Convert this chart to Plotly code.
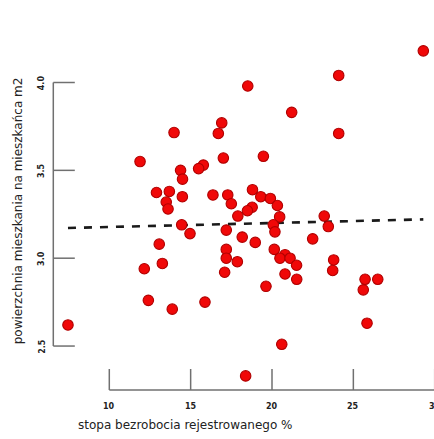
import plotly.graph_objects as go

# ---- data ----
unemployment = [7.46, 29.30, 24.10, 18.51, 21.21, 24.10, 13.98, 16.91, 16.70, 11.89,
                17.01, 19.47, 15.78, 15.49, 14.38, 14.50, 12.90, 13.69, 14.49, 13.50,
                13.61, 16.37, 17.28, 17.50, 18.80, 19.31, 19.90, 20.33, 18.78, 18.49,
                17.90, 20.47, 14.45, 14.96, 17.19, 20.08, 20.18, 18.17, 18.97, 13.07,
                22.50, 23.21, 23.46, 13.26, 12.15, 17.19, 17.19, 17.87, 17.09, 20.14,
                20.80, 20.49, 21.11, 21.51, 20.80, 21.52, 23.79, 23.73, 25.72, 26.50,
                25.61, 19.63, 12.40, 13.87, 15.88, 25.84, 20.60, 18.38]
area = [2.62, 4.18, 4.04, 3.98, 3.83, 3.71, 3.715, 3.77, 3.71, 3.55,
        3.57, 3.58, 3.53, 3.51, 3.50, 3.45, 3.374, 3.38, 3.35, 3.32,
        3.28, 3.36, 3.36, 3.31, 3.39, 3.35, 3.34, 3.30, 3.29, 3.27,
        3.24, 3.235, 3.19, 3.14, 3.16, 3.19, 3.15, 3.12, 3.09, 3.08,
        3.11, 3.24, 3.18, 2.97, 2.94, 3.05, 3.00, 2.98, 2.92, 3.05,
        3.02, 3.00, 3.00, 2.96, 2.91, 2.88, 2.99, 2.93, 2.88, 2.88,
        2.82, 2.84, 2.76, 2.71, 2.75, 2.63, 2.51, 2.33]
trend_x = [7.46, 29.30]
trend_y = [3.172, 3.221]
x_ticks = [10, 15, 20, 25, 30]
y_ticks = [2.5, 3.0, 3.5, 4.0]
x_title = "stopa bezrobocia rejestrowanego %"
y_title = "powierzchnia mieszkania na mieszkańca m2"

# ---- calibration of the canvas ----
W, H = 434, 439
X_PX0, X_PPU = 109.3, 16.27   # pixel of x=10, pixels per x unit
Y_PX0, Y_PPU = 82.5, 175.7    # pixel of y=4.0, pixels per y unit
xr = [10 - X_PX0 / X_PPU, 10 + (W - X_PX0) / X_PPU]
yr = [4.0 - (H - Y_PX0) / Y_PPU, 4.0 + Y_PX0 / Y_PPU]


def dx(px):  # pixel x -> data x
    return xr[0] + px / X_PPU


def dy(py):  # pixel y (from top) -> data y
    return yr[1] - py / Y_PPU


def paper_x(v):  # data x -> paper fraction (may exceed 1)
    return (v - xr[0]) / (xr[1] - xr[0])


AX_COL = "#707070"
yaxis_x = dx(53.3)
xaxis_y = dy(390)
tick_len_x = 21.5 / X_PPU
tick_len_y = 21.0 / Y_PPU

fig = go.Figure()
fig.add_trace(go.Scatter(
    x=trend_x, y=trend_y, mode="lines",
    line=dict(color="#1a1a1a", width=2.6, dash="8px,8px"),
    hoverinfo="skip", showlegend=False))
fig.add_trace(go.Scatter(
    x=unemployment, y=area, mode="markers",
    marker=dict(color="#f00808", size=10.5, line=dict(color="#b00000", width=1.1)),
    showlegend=False))

shapes = []
# y axis line + ticks (pointing inward)
shapes.append(dict(type="line", xref="x", yref="y", x0=yaxis_x, x1=yaxis_x,
                   y0=min(y_ticks), y1=max(y_ticks), line=dict(color=AX_COL, width=1.5)))
for t in y_ticks:
    shapes.append(dict(type="line", xref="x", yref="y", x0=yaxis_x, x1=yaxis_x + tick_len_x,
                       y0=t, y1=t, line=dict(color=AX_COL, width=1.5)))
# x axis line + ticks (pointing up)
shapes.append(dict(type="line", xref="x", yref="y", x0=min(x_ticks), x1=max(x_ticks),
                   y0=xaxis_y, y1=xaxis_y, line=dict(color=AX_COL, width=1.5)))
for t in x_ticks:
    shapes.append(dict(type="line", xref="x", yref="y", x0=t, x1=t,
                       y0=xaxis_y, y1=xaxis_y + tick_len_y, line=dict(color=AX_COL, width=1.5)))

annotations = []
tick_font = dict(family="DejaVu Sans", size=8, color="#222222", weight="bold")
for t in x_ticks:
    annotations.append(dict(x=paper_x(t), y=dy(406), xref="paper", yref="y", text=f"{t}",
                            showarrow=False, font=tick_font, xanchor="center", yanchor="middle"))
for t in y_ticks:
    annotations.append(dict(x=dx(41.7), y=t, xref="x", yref="y", text=f"{t:.1f}",
                            showarrow=False, font=tick_font, textangle=-90,
                            xanchor="center", yanchor="middle"))
title_font = dict(family="DejaVu Sans", size=12, color="#222222")
annotations.append(dict(x=dx(185.3), y=dy(425), xref="x", yref="y", text=x_title,
                        showarrow=False, font=title_font, xanchor="center", yanchor="middle"))
annotations.append(dict(x=dx(18.3), y=dy(211), xref="x", yref="y", text=y_title,
                        showarrow=False, font=title_font, textangle=-90,
                        xanchor="center", yanchor="middle"))

fig.update_layout(
    width=W, height=H, margin=dict(l=0, r=0, t=0, b=0),
    paper_bgcolor="white", plot_bgcolor="white",
    xaxis=dict(range=xr, visible=False, fixedrange=True),
    yaxis=dict(range=yr, visible=False, fixedrange=True),
    shapes=shapes, annotations=annotations, showlegend=False)

fig.write_html("out.html")
